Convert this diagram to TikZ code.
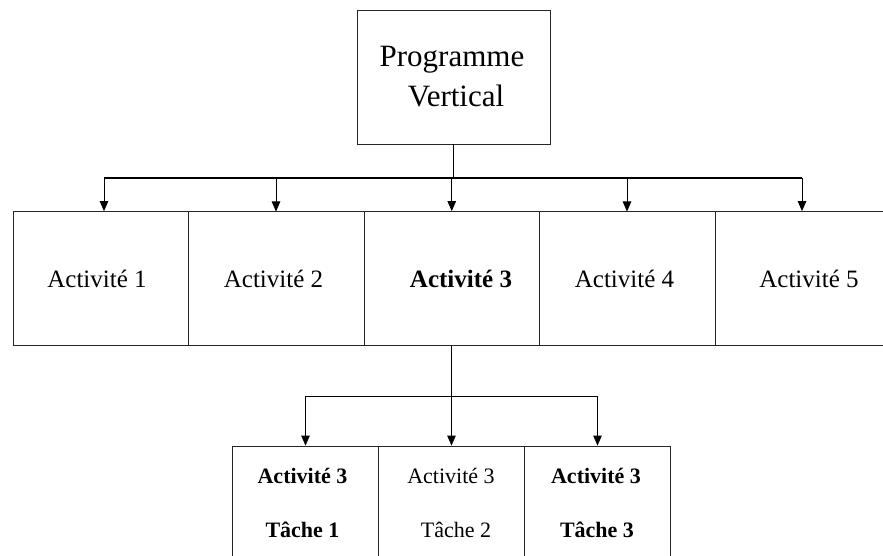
\documentclass[tikz,border=0pt]{standalone}
\usepackage{fontspec}
\setmainfont{Liberation Serif}
\usetikzlibrary{arrows.meta}

\begin{document}
\begin{tikzpicture}[x=1pt,y=-1pt,
  box/.style={draw=black!85,line width=0.8pt,rectangle,inner sep=0pt},
  toprow/.style={box,minimum width=175.5pt,minimum height=134pt},
  subrow/.style={box,minimum width=146pt,minimum height=150pt},
  wire/.style={draw=black,line width=0.8pt},
  trunk/.style={draw=black,line width=1.4pt},
  arr/.style={wire,-{Triangle[width=8.5pt,length=10pt]}},
  big/.style={font=\fontsize{31}{40}\selectfont},
  mid/.style={font=\fontsize{25}{30}\selectfont,anchor=base},
  small/.style={font=\fontsize{22}{26}\selectfont,anchor=base}]

  \useasboundingbox (0,0) rectangle (883,556);

  % program box
  \node[box,minimum width=193pt,minimum height=134pt] (prog) at (453.5,77) {};
  \node[big,anchor=base] (progA) at (452,67) {Programme};
  \node[big,anchor=base] (progB) at (456,107) {Vertical};

  % activity row
  \node[toprow] (a1) at (100.75,278.5) {};
  \node[toprow] (a2) at (276.25,278.5) {};
  \node[toprow] (a3) at (451.75,278.5) {};
  \node[toprow] (a4) at (627.25,278.5) {};
  \node[toprow] (a5) at (802.75,278.5) {};
  \node[mid] (t1) at (97,287) {Activité 1};
  \node[mid] (t2) at (273.5,287) {Activité 2};
  \node[mid] (t3) at (461,287) {\textbf{Activité 3}};
  \node[mid] (t4) at (624.5,287) {Activité 4};
  \node[mid] (t5) at (809,287) {Activité 5};

  % tasks of activity 3
  \node[subrow] (s1) at (305.5,521) {};
  \node[subrow] (s2) at (451.5,521) {};
  \node[subrow] (s3) at (597.5,521) {};
  \node[small] (u1a) at (302.5,483) {\textbf{Activité 3}};
  \node[small] (u1b) at (302.5,537) {\textbf{Tâche 1}};
  \node[small] (u2a) at (451,483) {Activité 3};
  \node[small] (u2b) at (456,537) {Tâche 2};
  \node[small] (u3a) at (596,483) {\textbf{Activité 3}};
  \node[small] (u3b) at (597,537) {\textbf{Tâche 3}};

  % connectors: program to activities
  \coordinate (bus) at (453.5,178);
  \coordinate (busL) at (104,178);
  \coordinate (busR) at (802,178);
  \draw[trunk] (prog.south) -- (bus);
  \draw[trunk] (busL) -- (busR);
  \draw[arr] (busL) -- (busL |- a1.north);
  \draw[arr] (bus -| 276,0) -- (276,211.5);
  \draw[arr] (bus -| a3) -- (a3.north);
  \draw[arr] (bus -| 627,0) -- (627,211.5);
  \draw[arr] (busR) -- (busR |- a5.north);

  % connectors: activity 3 to tasks
  \coordinate (sbus) at (451.75,396);
  \draw[trunk] (a3.south) -- (sbus);
  \draw[wire] (sbus -| s1) -- (sbus -| s3);
  \draw[arr] (sbus -| s1) -- (s1.north);
  \draw[arr] (sbus -| s2) -- (s2.north);
  \draw[arr] (sbus -| s3) -- (s3.north);
\end{tikzpicture}
\end{document}
